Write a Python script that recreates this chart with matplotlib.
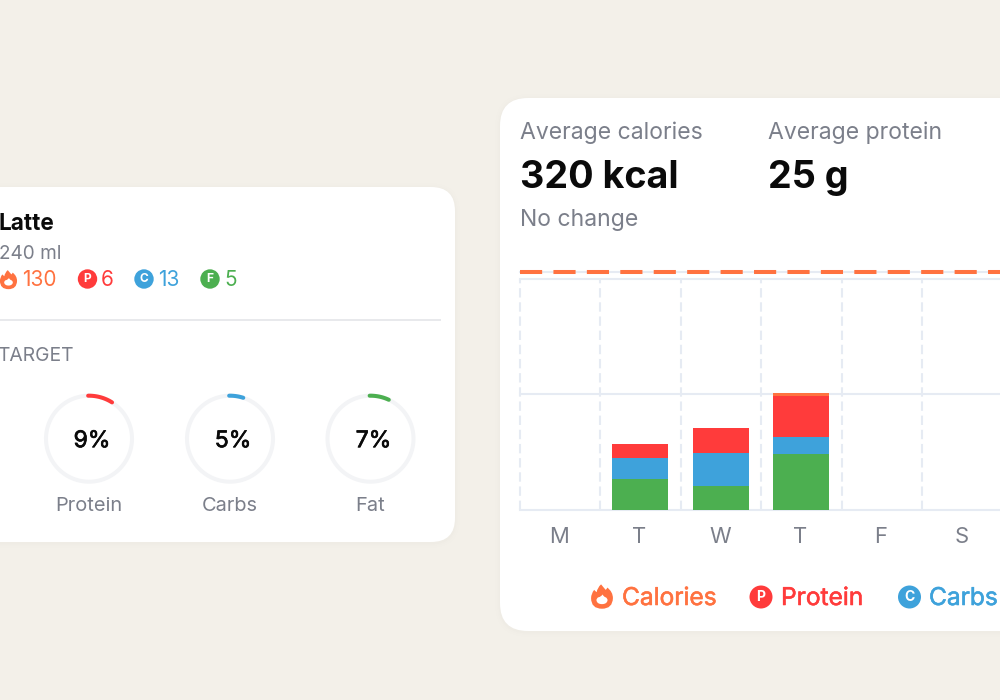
import numpy as np
import matplotlib
matplotlib.use("Agg")
import matplotlib.pyplot as plt
import matplotlib.patheffects as pe
from matplotlib.patches import FancyBboxPatch, Circle, PathPatch
from matplotlib.path import Path

plt.rcParams['font.family'] = ['Inter', 'DejaVu Sans']

# ---- data ----
days = ["M", "T", "W", "T", "F", "S"]
fat_vals = [0, 133, 104, 242, 0, 0]
carb_vals = [0, 91, 141, 71, 0, 0]
protein_vals = [0, 61, 110, 179, 0, 0]
cal_vals = [0, 0, 0, 14, 0, 0]
grid_vals = [0, 500, 1000]
target_val = 1030
ring_labels = ["Protein", "Carbs", "Fat"]
ring_pct = [9, 5, 7]
macro_vals = ["130", "6", "13", "5"]
legend_names = ["Calories", "Protein", "Carbs"]

ORANGE = "#FF7240"
RED = "#FF3B3B"
BLUE = "#3EA2DB"
GREEN = "#4CAF50"
GREY = "#7B7F8A"
BG = "#F3F0E9"
GRID = "#E6EBF3"
RING = "#F3F4F6"

fig = plt.figure(figsize=(10, 7), dpi=100, facecolor=BG)
ov = fig.add_axes([0, 0, 1, 1], zorder=0)
ov.set_xlim(0, 1000); ov.set_ylim(700, 0); ov.axis("off")


def card(x0, y0, x1, y1, r):
    for grow, a in [(5, .003), (3, .004), (1.5, .006)]:
        ov.add_patch(FancyBboxPatch((x0 - grow, y0 - grow + 1), x1 - x0 + 2 * grow, y1 - y0 + 2 * grow,
                                    boxstyle=f"round,pad=0,rounding_size={r + grow}", fc="black", ec="none", alpha=a))
    ov.add_patch(FancyBboxPatch((x0, y0), x1 - x0, y1 - y0, boxstyle=f"round,pad=0,rounding_size={r}",
                                fc="white", ec="none"))


card(-60, 187, 455, 542, 24)
card(500, 98, 1080, 631, 28)


def T(x, y, s, size, color, weight="normal", ha="left", va="baseline", stroke=0):
    t = ov.text(x, y, s, fontsize=size * 0.72, color=color, fontweight=weight, ha=ha, va=va)
    if stroke:
        t.set_path_effects([pe.withStroke(linewidth=stroke, foreground=color)])


def flame(cx, cy, s):
    C = Path.CURVE3
    outer = [((-0.08, -1.1), Path.MOVETO),
             ((0.12, -0.85), C), ((0.32, -0.62), C),
             ((0.42, -0.7), C), ((0.46, -0.82), C),
             ((0.95, -0.45), C), ((0.95, 0.1), C),
             ((0.92, 1.02), C), ((0.0, 1.02), C),
             ((-0.95, 1.02), C), ((-0.95, 0.1), C),
             ((-0.95, -0.3), C), ((-0.68, -0.62), C),
             ((-0.58, -0.5), C), ((-0.46, -0.42), C),
             ((-0.42, -0.8), C), ((-0.08, -1.1), C)]
    inner = [((0.05, -0.22), Path.MOVETO),
             ((0.15, -0.02), C), ((0.3, 0.02), C),
             ((0.5, 0.1), C), ((0.48, 0.3), C),
             ((0.42, 0.62), C), ((0.0, 0.62), C),
             ((-0.42, 0.62), C), ((-0.48, 0.3), C),
             ((-0.5, 0.1), C), ((-0.3, 0.02), C),
             ((-0.1, 0.0), C), ((0.05, -0.22), C)]
    for spec, c in [(outer, ORANGE), (inner, "white")]:
        pts = np.array([p for p, _ in spec]) * s + [cx, cy]
        ov.add_patch(PathPatch(Path(pts, [k for _, k in spec]), fc=c, ec="none"))


def badge(cx, cy, r, letter, color, size):
    ov.add_patch(Circle((cx, cy), r, fc=color, ec="none"))
    ov.text(cx, cy + 0.3, letter, fontsize=size * 0.72, color="white", fontweight="bold", ha="center", va="center")


# ---- left card ----
T(-1, 230, "Latte", 22.5, "#0A0A0A", "bold")
T(-1, 259, "240 ml", 19, GREY)
flame(8.5, 280, 9)
T(22, 286, macro_vals[0], 20.8, ORANGE)
badge(87.5, 279, 9.7, "P", RED, 12)
T(101, 286, macro_vals[1], 20.8, RED)
badge(144, 279, 9.7, "C", BLUE, 12)
T(158, 286, macro_vals[2], 20.8, BLUE)
badge(210, 279, 9.7, "F", GREEN, 12)
T(224, 286, macro_vals[3], 20.8, GREEN)
ov.plot([0, 441], [319.5, 319.5], color="#E8E9EC", lw=1.4, solid_capstyle="butt")
T(-3, 361, "TARGET", 19.3, GREY)

ring_cx = [89, 230, 370.5]
ring_colors = [RED, BLUE, GREEN]
ring_cy = 438.7
R_BOX = 50
for cx, lab, pct, col in zip(ring_cx, ring_labels, ring_pct, ring_colors):
    pa = fig.add_axes([(cx - R_BOX) / 1000, 1 - (ring_cy + R_BOX) / 700, 2 * R_BOX / 1000, 2 * R_BOX / 700],
                      projection="polar", zorder=2)
    pa.set_theta_zero_location("N"); pa.set_theta_direction(-1)
    pa.set_ylim(0, 1); pa.axis("off"); pa.patch.set_alpha(0)
    th = np.linspace(0, 2 * np.pi, 200)
    pa.plot(th, np.full_like(th, 0.86), color=RING, lw=2.9)
    th = np.linspace(-0.02, pct / 100 * 2 * np.pi, 50)
    pa.plot(th, np.full_like(th, 0.86), color=col, lw=2.9, solid_capstyle="round")
    T(cx + 3, ring_cy + 8.5, f"{pct}%", 23, "#0A0A0A", ha="center", stroke=0.5)
    T(cx, 511, lab, 20, GREY, ha="center")

# ---- right card ----
T(519.5, 139, "Average calories", 23, GREY)
T(767.5, 139, "Average protein", 23, GREY)
T(519.5, 188, "320 kcal", 37.7, "#0A0A0A", "bold")
T(767.5, 188, "25 g", 37.7, "#0A0A0A", "bold")
T(519.5, 226, "No change", 23, GREY)

# ---- bar chart ----
PX_W = 80.5
X0 = 519.5
Y0, Y1000 = 509.5, 279.0
ca = fig.add_axes([X0 / 1000, 1 - Y0 / 700, (1000 - X0) / 1000, (Y0 - Y1000) / 700], zorder=1)
ca.patch.set_alpha(0)
ca.set_xlim(-0.5, -0.5 + (1000 - X0) / PX_W); ca.set_ylim(0, 1000)
for s in ca.spines.values():
    s.set_visible(False)
ca.set_yticks([])
x = np.arange(len(days))
ca.set_xticks(x - 0.01, days)
ca.tick_params(axis="x", length=0, pad=12.5, labelsize=22 * 0.72, labelcolor=GREY)

for v in grid_vals:
    ca.axhline(v, color=GRID, lw=1.5, zorder=1, clip_on=False)
ca.axhline(target_val, color=GRID, lw=1.5, zorder=1, clip_on=False)
for b in range(7):
    ca.plot([b - 0.5, b - 0.5], [0, 1000], color=GRID, lw=1.5, dashes=(4.5, 2.3), zorder=1, clip_on=False)

bottom = np.zeros(len(days))
for vals, col in [(fat_vals, GREEN), (carb_vals, BLUE), (protein_vals, RED), (cal_vals, ORANGE)]:
    ca.bar(x, vals, width=0.69, bottom=bottom, color=col, zorder=3)
    bottom = bottom + np.array(vals)

ca.plot([-0.495, 5.5], [target_val, target_val], color=ORANGE, lw=2.9, dashes=(5.5, 2.8),
        dash_capstyle="butt", zorder=4, clip_on=False)

# ---- legend ----
flame(602, 597, 11.5)
T(622, 605, legend_names[0], 24.5, ORANGE, stroke=0.4)
badge(761, 597, 11.5, "P", RED, 14)
T(781, 605, legend_names[1], 24.5, RED, stroke=0.4)
badge(909.5, 597, 11.5, "C", BLUE, 14)
T(929, 605, legend_names[2], 24.5, BLUE, stroke=0.4)

fig.savefig("out.png", dpi=100, facecolor=BG)
